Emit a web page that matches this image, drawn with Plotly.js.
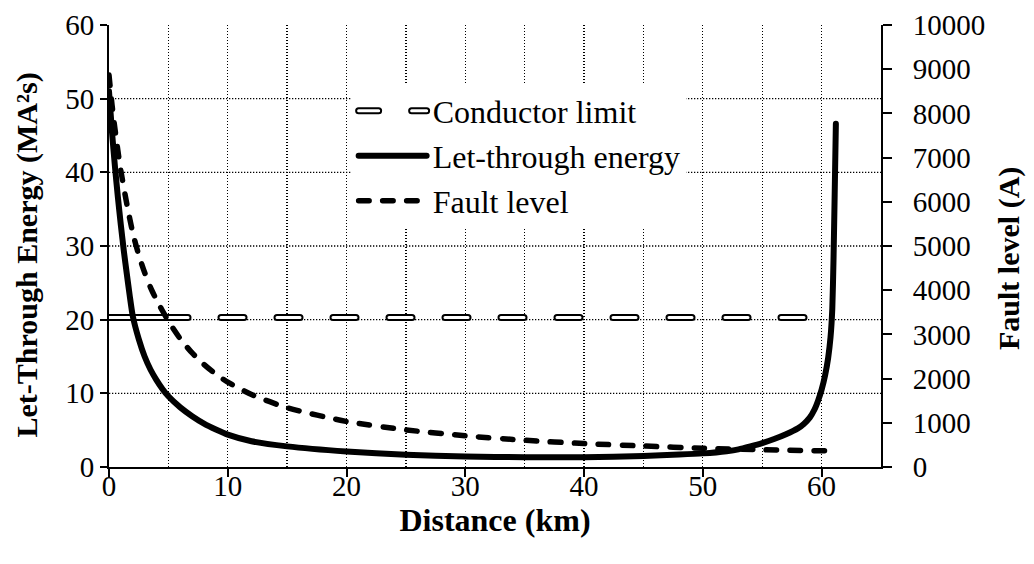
<!DOCTYPE html>
<html>
<head>
<meta charset="utf-8">
<script src="https://cdn.plot.ly/plotly-3.0.1.min.js"></script>
<style>
  html, body { margin: 0; padding: 0; background: #fff; }
  #chart { width: 1034px; height: 564px; }
</style>
</head>
<body>
<div id="chart"></div>
<script>
// Distance along the feeder (km) and let-through energy (MA²s)
const energyKm = [0, 0.25, 0.5, 0.75, 1, 1.25, 1.5, 1.75, 2, 2.5, 3, 3.5, 4, 4.5, 5, 6, 7, 8, 9, 10,
  12, 15, 20, 25, 30, 35, 40, 45, 48, 50, 52, 53, 54, 55, 56, 57, 58, 58.5, 59, 59.4,
  59.7, 60, 60.3, 60.55, 60.75, 60.9, 61, 61.1, 61.2];
const energyMA2s = [51, 45.5, 40.8, 36.6, 32.8, 29.3, 26.2, 23.2, 20.5, 17.4, 15.0, 13.2, 11.8, 10.6, 9.6, 8.1, 6.9, 5.9, 5.1, 4.4,
  3.5, 2.8, 2.1, 1.65, 1.42, 1.32, 1.33, 1.5, 1.68, 1.85, 2.15, 2.4, 2.8, 3.25, 3.8, 4.45, 5.25, 5.85, 6.7, 7.8,
  9.0, 10.5, 12.5, 14.8, 17.6, 21.5, 28, 37, 46.6];

// Prospective fault level (A) against distance (km)
const faultKm = [0, 0.25, 0.5, 0.75, 1, 1.5, 2, 2.5, 3, 3.5, 4, 5, 6, 7, 8, 9, 10, 12, 15, 20,
  25, 30, 35, 40, 45, 50, 55, 60.5];
const faultAmps = [8870, 8200, 7650, 7150, 6700, 5950, 5300, 4800, 4400, 4060, 3780, 3300, 2900, 2580, 2320, 2100, 1920, 1640, 1340, 1030,
  840, 705, 605, 530, 475, 425, 390, 365];

// Conductor thermal limit (MA²s)
const limitKm = [0, 59];
const limitMA2s = [20.3, 20.3];

// Axis ticks and horizontal grid levels
const distanceTicks = [0, 10, 20, 30, 40, 50, 60];
const energyTicks = [0, 10, 20, 30, 40, 50, 60];
const energyGrid = [10, 20, 30, 40, 50];
const faultTicks = [0, 1000, 2000, 3000, 4000, 5000, 6000, 7000, 8000, 9000, 10000];

const FONT = '"Liberation Serif", "Times New Roman", Times, serif';
const GRID_DASH = '1.3px,1.7px';

// Long first dash, then regular pill-shaped dashes for the limit line
let limitDash = '79px,33px';
for (let i = 0; i < 16; i++) limitDash += ',23px,33px';

const traces = [
  {
    x: limitKm, y: limitMA2s, mode: 'lines', name: 'Conductor limit',
    legendgroup: 'limit', hoverinfo: 'skip',
    line: { color: '#000', width: 7, dash: limitDash }
  },
  {
    x: limitKm, y: limitMA2s, mode: 'lines', name: 'Conductor limit',
    legendgroup: 'limit', showlegend: false, hoverinfo: 'skip',
    line: { color: '#fff', width: 3, dash: limitDash }
  },
  {
    x: energyKm, y: energyMA2s, mode: 'lines', name: 'Let-through energy',
    legendgroup: 'energy',
    line: { color: '#000', width: 6, shape: 'spline', smoothing: 0.5 }
  },
  {
    x: faultKm, y: faultAmps, yaxis: 'y2', mode: 'lines', name: 'Fault level',
    legendgroup: 'fault',
    line: { color: '#000', width: 5.5, dash: '10.5px,13.5px', shape: 'spline', smoothing: 0.6 }
  }
];

const gridStyle = { showgrid: true, gridcolor: '#000', gridwidth: 1.3, griddash: GRID_DASH };

// Horizontal dotted grid at the inner energy levels (no line along the top edge)
const gridShapes = energyGrid.map(function (v) {
  return {
    type: 'line', layer: 'below', xref: 'paper', x0: 0, x1: 1, yref: 'y', y0: v, y1: v,
    line: { color: '#000', width: 1.3, dash: GRID_DASH }
  };
});

const layout = {
  width: 1034, height: 564,
  margin: { l: 109, r: 153, t: 25, b: 97, pad: 0 },
  paper_bgcolor: '#fff', plot_bgcolor: '#fff',
  font: { family: FONT, size: 29, color: '#000' },
  showlegend: true,
  legend: {
    x: 0.313, y: 0.868, xanchor: 'left', yanchor: 'top',
    bgcolor: '#fff', borderwidth: 0, itemwidth: 72, tracegroupgap: 0.5,
    font: { family: FONT, size: 32, color: '#000' }
  },
  xaxis: Object.assign({
    range: [0, 65], tickmode: 'array', tickvals: distanceTicks,
    ticks: 'outside', ticklen: 8, tickwidth: 2, tickcolor: '#000',
    ticklabelstandoff: -16,
    showline: true, linewidth: 2, linecolor: '#000', zeroline: false,
    minor: Object.assign({ dtick: 5, tick0: 0, ticks: '' }, gridStyle),
    title: { text: '<b>Distance (km)</b>', font: { family: FONT, size: 32 }, standoff: 0 },
    automargin: false, fixedrange: true
  }, gridStyle),
  yaxis: {
    range: [0, 60], tickmode: 'array', tickvals: energyTicks,
    ticks: 'outside', ticklen: 7, tickwidth: 2, tickcolor: '#000',
    showline: true, linewidth: 2, linecolor: '#000', zeroline: false, showgrid: false,
    automargin: false, fixedrange: true
  },
  yaxis2: {
    overlaying: 'y', side: 'right', anchor: 'x',
    range: [0, 10000], tickmode: 'array', tickvals: faultTicks, tickformat: 'd',
    ticks: 'outside', ticklen: 9, tickwidth: 2, tickcolor: '#000',
    ticklabelstandoff: 15,
    showline: true, linewidth: 2, linecolor: '#000', zeroline: false, showgrid: false,
    automargin: false, fixedrange: true
  },
  shapes: gridShapes,
  annotations: [
    {
      text: '<b>Let-Through Energy (MA²s)</b>', textangle: -90,
      xref: 'paper', yref: 'paper', x: -0.1067, y: 0.48,
      xanchor: 'center', yanchor: 'middle', showarrow: false,
      font: { family: FONT, size: 30, color: '#000' }
    },
    {
      text: '<b>Fault level (A)</b>', textangle: -90,
      xref: 'paper', yref: 'paper', x: 1.166, y: 0.471,
      xanchor: 'center', yanchor: 'middle', showarrow: false,
      font: { family: FONT, size: 30, color: '#000' }
    }
  ]
};

Plotly.newPlot('chart', traces, layout, { staticPlot: true, displayModeBar: false }).then(function (gd) {
  // Rounded line ends
  gd.querySelectorAll('.scatterlayer path.js-line').forEach(function (p) {
    p.style.strokeLinecap = 'round';
    p.style.strokeLinejoin = 'round';
  });
  // Wider legend samples
  gd.querySelectorAll('.legend .traces').forEach(function (g) {
    const tr = g.__data__ && g.__data__[0] && g.__data__[0].trace;
    const path = g.querySelector('.legendlines path.js-line');
    if (!tr || !path) return;
    path.style.strokeLinecap = 'round';
    if (tr.name === 'Conductor limit') {
      path.setAttribute('d', 'M8,0h68');
      path.style.strokeDasharray = '20px,33px,15px,40px';
      const inner = path.cloneNode();
      inner.style.stroke = '#fff';
      inner.style.strokeWidth = '3px';
      path.parentNode.appendChild(inner);
    } else if (tr.name === 'Fault level') {
      path.setAttribute('d', 'M8,0h62');
    } else {
      path.setAttribute('d', 'M8,0h68');
    }
  });
});
</script>
</body>
</html>
